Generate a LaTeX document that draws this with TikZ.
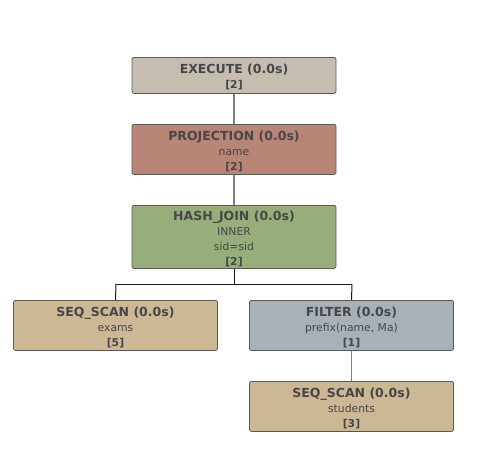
\documentclass[tikz,border=0pt]{standalone}
\usepackage{fontspec}
\setmainfont{DejaVu Sans}
\begin{document}
\begin{tikzpicture}[x=1pt,y=-1pt,
  op/.style={draw=black!65, line width=0.8pt, rounded corners=2pt, minimum width=204pt, anchor=north, inner sep=0pt, align=center, text=black!72, font=\fontsize{10.8}{15}\selectfont},
  conn/.style={draw=black!50, line width=1.5pt},
  hconn/.style={draw=black!90, line width=1pt}]
\useasboundingbox (0,0) rectangle (482,455);
\definecolor{cexec}{HTML}{C5BEB0}
\definecolor{cproj}{HTML}{B98576}
\definecolor{chash}{HTML}{97AD7A}
\definecolor{cscan}{HTML}{CDB896}
\definecolor{cfilt}{HTML}{A8B0B8}
\newcommand{\ttl}[1]{{\rule{0pt}{13.5pt}\fontsize{12.5}{15}\selectfont\bfseries #1}}
\newcommand{\cnt}[1]{{\bfseries #1}}
\node[op, fill=cexec, minimum height=36pt] (exec) at (234,57) {\ttl{EXECUTE (0.0s)}\\\cnt{[2]}};
\node[op, fill=cproj, minimum height=50pt] (proj) at (234,124) {\ttl{PROJECTION (0.0s)}\\name\\\cnt{[2]}};
\node[op, fill=chash, minimum height=63pt] (hash) at (234,205) {\ttl{HASH\_JOIN (0.0s)}\\INNER\\sid=sid\\\cnt{[2]}};
\node[op, fill=cscan, minimum height=50pt] (scan1) at (115.5,300) {\ttl{SEQ\_SCAN (0.0s)}\\exams\\\cnt{[5]}};
\node[op, fill=cfilt, minimum height=50pt] (filt) at (351.5,300) {\ttl{FILTER (0.0s)}\\prefix(name, Ma)\\\cnt{[1]}};
\node[op, fill=cscan, minimum height=50pt] (scan2) at (351.5,381) {\ttl{SEQ\_SCAN (0.0s)}\\students\\\cnt{[3]}};
\coordinate (split) at (234,284);
\coordinate (sl) at (116,284);
\coordinate (sr) at (352,284);
\draw[conn] (exec.south) -- (proj.north);
\draw[conn] (proj.south) -- (hash.north);
\draw[hconn] (hash.south) -- (split);
\draw[hconn] (sl) -- (sr);
\draw[hconn] (sl) -- (scan1.north);
\draw[hconn] (sr) -- (filt.north);
\draw[conn] (filt.south) -- (scan2.north);
\end{tikzpicture}
\end{document}
